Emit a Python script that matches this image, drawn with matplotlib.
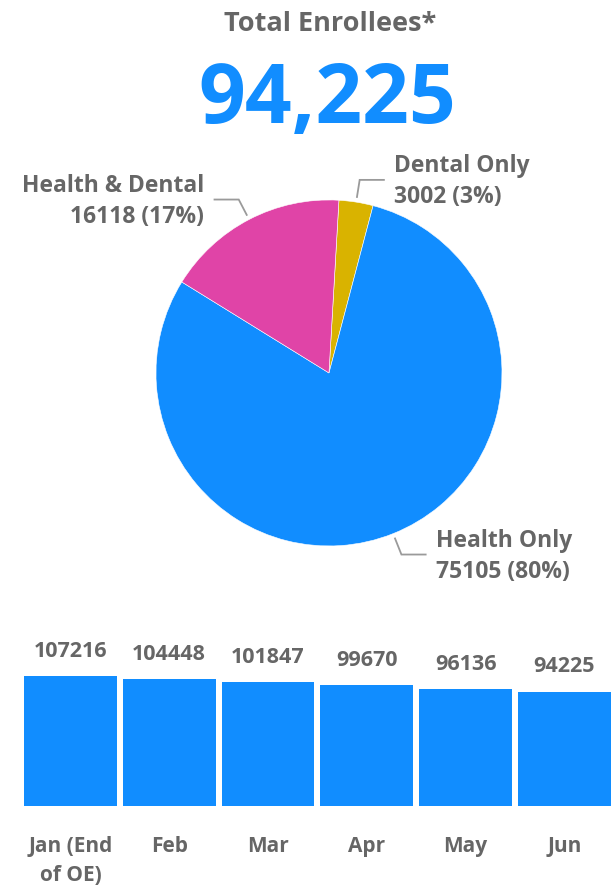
import numpy as np
import matplotlib
matplotlib.use("Agg")
import matplotlib.pyplot as plt

plt.rcParams['font.family'] = ['Open Sans', 'DejaVu Sans']

# enrollment split (pie), clockwise from the top
segments = ['Dental Only', 'Health Only', 'Health & Dental']
seg_values = [3002, 75105, 16118]
seg_colors = ['#D9B300', '#118DFF', '#E044A7']

# monthly totals (bars)
months = ['Jan (End\nof OE)', 'Feb', 'Mar', 'Apr', 'May', 'Jun']
month_values = [107216, 104448, 101847, 99670, 96136, 94225]

GREY = '#666666'
BLUE = '#118DFF'

total = sum(seg_values)

fig = plt.figure(figsize=(6.16, 8.93), dpi=100)
fig.patch.set_facecolor('white')

# headline
fig.text(0.5357, 0.9656, 'Total Enrollees*', ha='center', va='baseline',
         fontsize=19.5, fontweight='bold', color=GREY)
fig.text(0.5315, 0.8619, f'{total:,}', ha='center', va='baseline',
         fontsize=59, fontweight='bold', color=BLUE)

# pie
ax = fig.add_axes([0.2532, 0.3886, 0.5617, 0.3875])
wedges, _ = ax.pie(seg_values, colors=seg_colors, startangle=86.7,
                   counterclock=False, radius=1,
                   wedgeprops=dict(edgecolor='white', linewidth=0.4))
ax.set_xlim(-1, 1)
ax.set_ylim(-1, 1)
ax.set_aspect('equal')
ax.axis('off')

for w, name, v in zip(wedges, segments, seg_values):
    ang = np.deg2rad((w.theta1 + w.theta2) / 2)
    c, s = np.cos(ang), np.sin(ang)
    side = 1 if c > 0 else -1
    p0 = (1.03 * c, 1.03 * s)
    p1 = (1.13 * c, 1.13 * s)
    p2 = (p1[0] + side * 0.14, p1[1])
    ax.plot([p0[0], p1[0], p2[0]], [p0[1], p1[1], p2[1]], color='#9a9a9a',
            lw=1.3, clip_on=False, solid_joinstyle='miter')
    pct = round(100 * v / total)
    ax.text(p2[0] + side * 0.06, p2[1] - 0.01, f'{name}\n{v} ({pct}%)',
            ha='left' if side > 0 else 'right', va='center',
            fontsize=16.5, fontweight='bold', color=GREY, linespacing=1.4)

# monthly bars
bx = fig.add_axes([24 / 616, 0.0978, 586.7 / 616, 0.1452])
x = np.arange(len(months))
bw = 0.94
bars = bx.bar(x, month_values, width=bw, color=BLUE)
bx.set_xlim(-bw / 2, len(months) - 1 + bw / 2)
bx.set_ylim(0, max(month_values))
for b, v in zip(bars, month_values):
    bx.annotate(str(v), (b.get_x() + b.get_width() / 2, b.get_height()),
                xytext=(0, 14), textcoords='offset points', ha='center',
                va='baseline', fontsize=15.5, color=GREY, fontweight='bold')
bx.set_xticks(x, months)
bx.tick_params(length=0, pad=22, labelsize=15, labelcolor=GREY)
for lab in bx.get_xticklabels():
    lab.set_fontweight('bold')
    lab.set_linespacing(1.5)
bx.set_yticks([])
for sp in bx.spines.values():
    sp.set_visible(False)

fig.savefig('out.png', dpi=100, facecolor='white')
